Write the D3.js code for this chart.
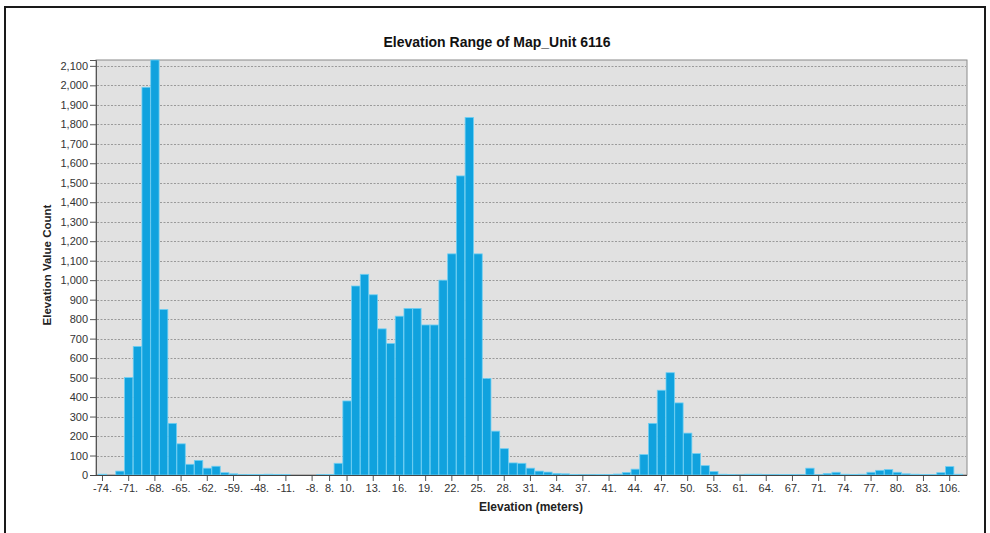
<!DOCTYPE html>
<html>
<head>
<meta charset="utf-8">
<script src="https://cdn.jsdelivr.net/npm/d3@7"></script>
<style>
  html, body { margin: 0; padding: 0; background: #fff; }
  svg { display: block; font-family: "Liberation Sans", Arial, sans-serif; }
</style>
</head>
<body>
<svg id="chart" width="990" height="533"></svg>
<script>
// ---- Data ----
const title = "Elevation Range of Map_Unit 6116";
const xTitle = "Elevation (meters)";
const yTitle = "Elevation Value Count";

// Count per elevation bin (99 bins, left to right)
const counts = [
  4, 0, 20, 500, 660, 1990, 2130, 850, 265, 160,
  55, 75, 35, 45, 12, 6, 2, 3, 3, 4,
  3, 3, 0, 0, 0, 2, 3, 60, 380, 970,
  1030, 925, 750, 675, 815, 855, 855, 770, 770, 1000,
  1135, 1535, 1835, 1135, 495, 225, 135, 62, 60, 35,
  20, 15, 8, 6, 3, 2, 2, 3, 3, 5,
  13, 30, 105, 265, 435, 525, 370, 215, 110, 48,
  18, 4, 3, 1, 4, 4, 2, 2, 3, 3,
  2, 35, 2, 8, 14, 4, 3, 4, 14, 24,
  28, 14, 6, 4, 3, 3, 12, 43, 4
];

// Labelled bins on the x axis (bin index and its label)
const tickBins   = [0, 3, 6, 9, 12, 15, 18, 21, 24, 26, 28, 31, 34, 37, 40, 43, 46, 49, 52, 55, 58, 61, 64, 67, 70, 73, 76, 79, 82, 85, 88, 91, 94, 97];
const tickLabels = ["-74.", "-71.", "-68.", "-65.", "-62.", "-59.", "-48.", "-11.", "-8.", "8.", "10.", "13.", "16.", "19.", "22.", "25.", "28.", "31.", "34.", "37.", "41.", "44.", "47.", "50.", "53.", "61.", "64.", "67.", "71.", "74.", "77.", "80.", "83.", "106."];

const yTicks = d3.range(0, 2101, 100);
const yMax = 2130;

// ---- Layout ----
const svg = d3.select("#chart");
const plot = { left: 96, right: 967, top: 60, bottom: 475 };

// outer frame
svg.append("rect")
  .attr("x", 5).attr("y", 7).attr("width", 980).attr("height", 540)
  .attr("fill", "#fff").attr("stroke", "#1a1a1a").attr("stroke-width", 2);

const bins = counts.map((d, i) => i);
const x = d3.scaleBand().domain(bins).range([98.3, 962.6]).paddingInner(0.04).paddingOuter(0);
const y = d3.scaleLinear().domain([0, yMax]).range([plot.bottom, plot.top]);

// plot background
svg.append("rect")
  .attr("x", plot.left).attr("y", plot.top)
  .attr("width", plot.right - plot.left).attr("height", plot.bottom - plot.top)
  .attr("fill", "#e1e1e1").attr("stroke", "#8a8a8a").attr("stroke-width", 1);

// gridlines
svg.append("g").selectAll("line").data(yTicks.filter(d => d > 0)).join("line")
  .attr("x1", plot.left + 1).attr("x2", plot.right - 1)
  .attr("y1", d => Math.round(y(d)) + 0.5).attr("y2", d => Math.round(y(d)) + 0.5)
  .attr("stroke", "#9a9a9a").attr("stroke-width", 1).attr("stroke-dasharray", "2,1.5");

svg.append("defs").append("clipPath").attr("id", "clip")
  .append("rect").attr("x", plot.left).attr("y", plot.top - 2)
  .attr("width", plot.right - plot.left).attr("height", plot.bottom - plot.top + 2);

// bars
svg.append("g").attr("clip-path", "url(#clip)")
  .selectAll("rect").data(counts).join("rect")
  .attr("x", (d, i) => x(i))
  .attr("width", x.bandwidth())
  .attr("y", d => y(d))
  .attr("height", d => plot.bottom - y(d))
  .attr("fill", "#10a2de")
  .attr("stroke", d => d > 0 ? "#6fcff3" : "none")
  .attr("stroke-width", 0.8);

// y axis
const yAxis = d3.axisLeft(y).tickValues(yTicks).tickFormat(d3.format(",")).tickSize(6).tickPadding(2);
const gy = svg.append("g").attr("transform", `translate(${plot.left},0)`).call(yAxis);
gy.select(".domain").attr("stroke", "#555");
gy.selectAll(".tick line").attr("stroke", "#555");
gy.selectAll(".tick text").attr("fill", "#333").style("font-size", "11px")
  .style("font-family", "'Liberation Sans', Arial, sans-serif");

// x axis
const xAxis = d3.axisBottom(x).tickValues(tickBins)
  .tickFormat(d => tickLabels[tickBins.indexOf(d)]).tickSize(6).tickPadding(3);
const gx = svg.append("g").attr("transform", `translate(0,${plot.bottom})`).call(xAxis);
gx.select(".domain").remove();
gx.append("line").attr("x1", plot.left - 6).attr("x2", plot.right).attr("y1", 0.5).attr("y2", 0.5)
  .attr("stroke", "#444").attr("stroke-width", 1.2);
gx.selectAll(".tick line").attr("stroke", "#555");
gx.selectAll(".tick text").attr("fill", "#333").style("font-size", "11px")
  .style("font-family", "'Liberation Sans', Arial, sans-serif");

// titles
svg.append("text").attr("x", 497).attr("y", 47).attr("text-anchor", "middle")
  .style("font-size", "14px").style("font-weight", "bold").attr("fill", "#111").text(title);

svg.append("text").attr("x", 531).attr("y", 511).attr("text-anchor", "middle")
  .style("font-size", "12px").style("font-weight", "bold").attr("fill", "#222").text(xTitle);

svg.append("text").attr("transform", "translate(51,265) rotate(-90)").attr("text-anchor", "middle")
  .style("font-size", "11.5px").style("font-weight", "bold").attr("fill", "#222").text(yTitle);
</script>
</body>
</html>
